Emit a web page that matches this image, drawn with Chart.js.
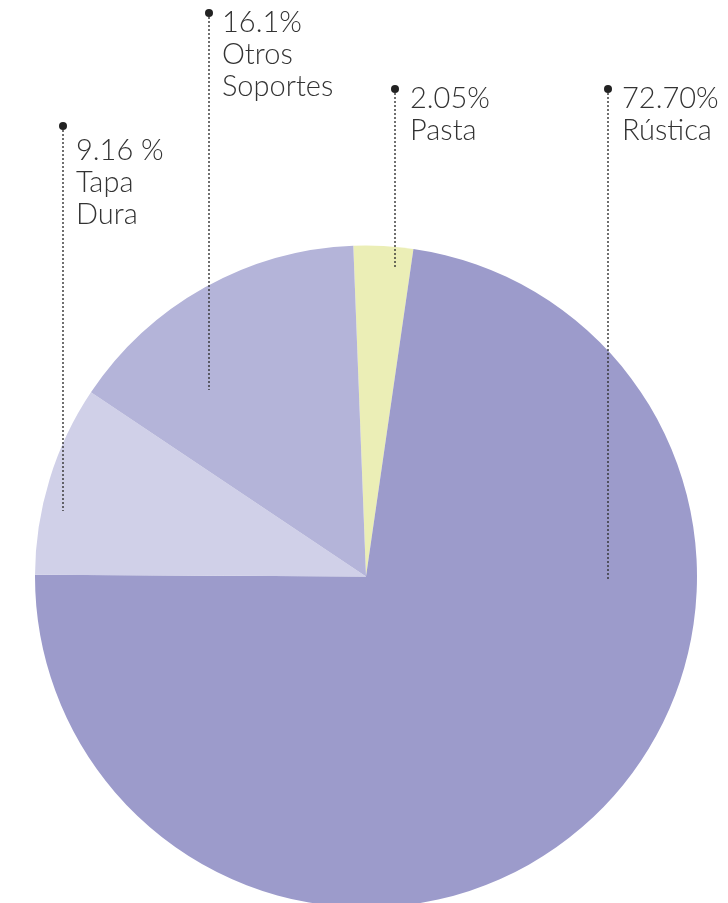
<!DOCTYPE html>
<html>
<head>
<meta charset="utf-8">
<script src="https://cdn.jsdelivr.net/npm/chart.js@4/dist/chart.umd.min.js"></script>
<style>
	html, body { margin: 0; padding: 0; background: #fff; overflow: hidden; }
	#caja { position: relative; width: 728px; height: 910px; }
</style>
</head>
<body>
<div id="caja"><canvas id="graficoSoportes"></canvas></div>
<script>
// datos (porcentaje de cada soporte, medido sobre el dibujo)
var categorias = ['Pasta', 'Rústica', 'Tapa Dura', 'Otros Soportes'];
var valores = [2.9, 72.8, 9.3, 15.0];
var textosPorcentaje = ['2.05%', '72.70%', '9.16 %', '16.1%'];
var textosNombre = [['Pasta'], ['Rústica'], ['Tapa', 'Dura'], ['Otros', 'Soportes']];
var colores = ['#ebeeb6', '#9c9bcb', '#d0d0e8', '#b4b4d9'];

// posición de las etiquetas (punto, fin de la línea punteada, texto)
var etiquetas = [
	{ x: 395, yPunto: 89, yFin: 268, xTexto: 410, yTexto: 108 },
	{ x: 608, yPunto: 89, yFin: 580, xTexto: 622, yTexto: 108 },
	{ x: 63, yPunto: 126, yFin: 511, xTexto: 76, yTexto: 160 },
	{ x: 209, yPunto: 13, yFin: 390, xTexto: 222, yTexto: 32 }
];

var pluginEtiquetas = {
	id: 'etiquetas',
	afterDraw: function(chart) {
		var ctx = chart.ctx;
		ctx.save();
		etiquetas.forEach(function(e, i) {
			ctx.strokeStyle = '#333';
			ctx.lineWidth = 1.4;
			ctx.setLineDash([2, 2]);
			ctx.beginPath();
			ctx.moveTo(e.x, e.yPunto);
			ctx.lineTo(e.x, e.yFin);
			ctx.stroke();
			ctx.setLineDash([]);

			ctx.fillStyle = '#222';
			ctx.beginPath();
			ctx.arc(e.x, e.yPunto, 4, 0, Math.PI * 2);
			ctx.fill();

			ctx.fillStyle = '#333';
			ctx.font = '300 29px Lato';
			ctx.textAlign = 'left';
			ctx.textBaseline = 'alphabetic';
			var lineas = [textosPorcentaje[i]].concat(textosNombre[i]);
			lineas.forEach(function(t, j) {
				ctx.fillText(t, e.xTexto, e.yTexto + j * 32);
			});
		});
		ctx.restore();
	}
};

var grafico = new Chart(document.getElementById('graficoSoportes').getContext('2d'), {
	type: 'pie',
	data: {
		labels: categorias,
		datasets: [{
			data: valores,
			backgroundColor: colores,
			borderWidth: 0
		}]
	},
	options: {
		responsive: true,
		maintainAspectRatio: false,
		animation: false,
		rotation: -2.2,
		layout: { padding: { top: 245, bottom: 2, left: 35, right: 31 } },
		plugins: {
			legend: { display: false },
			tooltip: { enabled: false }
		}
	},
	plugins: [pluginEtiquetas]
});
</script>
</body>
</html>
